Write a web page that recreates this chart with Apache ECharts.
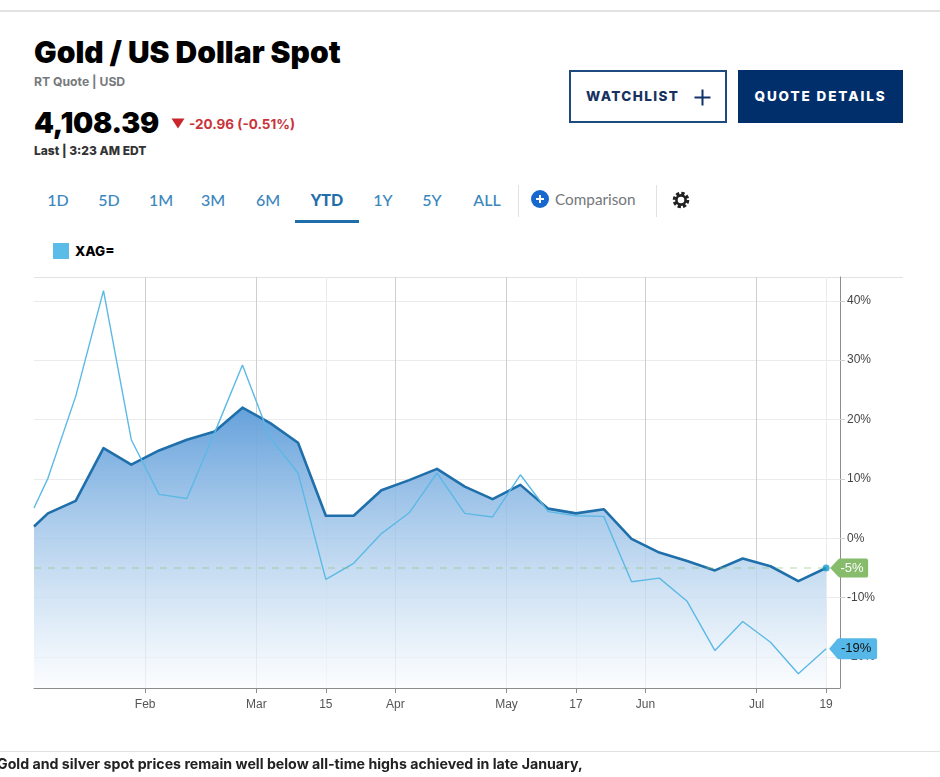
<!DOCTYPE html>
<html>
<head>
<meta charset="utf-8">
<title>Gold / US Dollar Spot</title>
<script src="https://cdn.jsdelivr.net/npm/echarts@6/dist/echarts.min.js"></script>
<style>
  html, body { margin: 0; padding: 0; background: #fff; overflow: hidden; }
  #page { position: relative; width: 940px; height: 777px; overflow: hidden; font-family: Lato, "Noto Sans", sans-serif; }
  #page > * { position: absolute; white-space: nowrap; }
  #chart { left: 0; top: 0; width: 940px; height: 777px; }
  .rule { background: #e2e2e2; }
  .heavy { font-family: Inter, Lato, sans-serif; }
  .range { top: 190px; font-size: 16px; line-height: 20px; color: #3b86bd; transform: translateX(-50%); font-weight: 500; }
  .range.active { color: #1f6ea9; font-weight: 900; }
  .btn { top: 70px; height: 53px; box-sizing: border-box; line-height: 52px; font-size: 13.5px; font-weight: 800; letter-spacing: 1.4px; }
</style>
</head>
<body>
<div id="page">
  <div class="rule" style="left:0;top:10px;width:940px;height:2px"></div>
  <div class="heavy" style="left:34px;top:34px;font-size:30px;line-height:36px;font-weight:900;color:#000">Gold / US Dollar Spot</div>
  <div class="heavy" style="left:34px;top:74px;font-size:12.2px;line-height:16px;font-weight:700;color:#77797c">RT Quote | USD</div>
  <div class="heavy" style="left:34px;top:104px;font-size:28.5px;line-height:38px;font-weight:900;color:#000;letter-spacing:-.3px">4,108.39</div>
  <svg style="left:171px;top:118px" width="14" height="11"><path d="M0.5 0.5H13.5L7 10.5Z" fill="#c8252d"/></svg>
  <div class="heavy" style="left:189px;top:115px;font-size:13.5px;line-height:18px;font-weight:700;color:#c9343a">-20.96 (-0.51%)</div>
  <div class="heavy" style="left:34px;top:143px;font-size:12px;line-height:16px;font-weight:800;color:#333">Last | 3:23 AM EDT</div>

  <div class="btn heavy" style="left:569px;width:158px;border:2px solid #1f4a80;background:#fff;color:#17325f;padding-left:15px;line-height:49px">WATCHLIST</div>
  <svg style="left:694px;top:89px" width="17" height="17"><path d="M8.5 0.5V16.5M0.5 8.5H16.5" stroke="#0f3368" stroke-width="2"/></svg>
  <div class="btn heavy" style="left:738px;width:165px;background:#002f6c;color:#fff;text-align:center;letter-spacing:1.9px">QUOTE DETAILS</div>

  <div class="range" style="left:58px">1D</div>
  <div class="range" style="left:109px">5D</div>
  <div class="range" style="left:161px">1M</div>
  <div class="range" style="left:213px">3M</div>
  <div class="range" style="left:268px">6M</div>
  <div class="range active" style="left:327px">YTD</div>
  <div class="range" style="left:383px">1Y</div>
  <div class="range" style="left:432px">5Y</div>
  <div class="range" style="left:487px">ALL</div>
  <div style="left:295px;top:220px;width:64px;height:3px;background:#1f6ea9"></div>
  <div class="rule" style="left:518px;top:185px;width:1px;height:32px"></div>
  <div class="rule" style="left:656px;top:185px;width:1px;height:32px"></div>
  <svg style="left:531px;top:190px" width="18" height="18"><circle cx="9" cy="9" r="9" fill="#1668cf"/><path d="M9 5V13M5 9H13" stroke="#fff" stroke-width="2"/></svg>
  <div style="left:555px;top:190px;font-size:15.3px;line-height:19px;color:#75777a">Comparison</div>
  <svg style="left:672px;top:191px" width="18" height="18" viewBox="0 0 18 18">
    <circle cx="9" cy="9" r="6.6" fill="none" stroke="#222" stroke-width="3.4" stroke-dasharray="3.2 2"/>
    <circle cx="9" cy="9" r="4.6" fill="none" stroke="#222" stroke-width="2.6"/>
  </svg>

  <div style="left:53px;top:243px;width:16px;height:16px;background:#5bbce8"></div>
  <div class="heavy" style="left:75px;top:243px;font-size:13.5px;line-height:17px;font-weight:800;color:#000">XAG=</div>

  <div class="rule" style="left:34px;top:277px;width:869px;height:1px"></div>
  <div id="chart"></div>

  <div class="rule" style="left:0;top:751px;width:940px;height:1px"></div>
  <div class="heavy" style="left:-3px;top:755px;font-size:14.2px;line-height:18px;font-weight:700;color:#222">Gold and silver spot prices remain well below all-time highs achieved in late January,</div>
</div>
<script>
// Sample slots along the year (one slot is half a week)
const sampleSlots = [0, 1, 3, 5, 7, 9, 11, 13, 15, 17, 19, 21, 23, 25, 27, 29, 31, 33, 35, 37, 39, 41, 43, 45, 47, 49, 51, 53, 55, 57];

// Year-to-date change in percent
const goldChange = [2.0, 4.2, 6.3, 15.2, 12.4, 14.8, 16.6, 18.0, 22.0, 19.4, 16.1, 3.8, 3.8, 8.1, 9.8, 11.7, 8.7, 6.6, 9.0, 5.0, 4.2, 4.9, -0.1, -2.4, -3.8, -5.4, -3.4, -4.7, -7.2, -5.0];
const silverChange = [5.1, 10.1, 23.9, 41.7, 16.6, 7.4, 6.7, 17.8, 29.2, 16.9, 11.0, -6.9, -4.2, 0.8, 4.3, 11.0, 4.2, 3.6, 10.7, 4.5, 3.8, 3.7, -7.3, -6.7, -10.6, -18.9, -14.0, -17.5, -22.8, -18.6];

// Axis ticks
const monthSlots = [8, 16, 26, 34, 44, 52];
const xTickSlots = [8, 16, 21, 26, 34, 39, 44, 52, 57];
const xTickLabels = ['Feb', 'Mar', '15', 'Apr', 'May', '17', 'Jun', 'Jul', '19'];
const yTicks = [-20, -10, 0, 10, 20, 30, 40];

const pairs = (values) => sampleSlots.map((slot, i) => [slot, values[i]]);
const lastSlot = sampleSlots[sampleSlots.length - 1];
const lastGold = goldChange[goldChange.length - 1];
const lastSilver = silverChange[silverChange.length - 1];

const tagPath = (w) => `path://M0 10L8 1Q9 0 10 0L${w - 2} 0Q${w} 0 ${w} 2L${w} 18Q${w} 20 ${w - 2} 20L10 20Q9 20 8 19Z`;
const tagLabel = (color) => ({
  show: true,
  position: 'inside',
  color,
  fontSize: 13,
  fontFamily: '"Liberation Sans", Arial, sans-serif',
  padding: [0, 0, 0, 6],
  formatter: (p) => Math.round(p.value[1]) + '%'
});

const chart = echarts.init(document.getElementById('chart'), null, { renderer: 'canvas' });
chart.setOption({
  animation: false,
  backgroundColor: 'transparent',
  grid: { left: 34, right: 100, top: 277, bottom: 89 },
  xAxis: [
    {
      type: 'value', min: 0, max: 58, position: 'bottom',
      axisLine: { onZero: false, lineStyle: { color: '#8c8c8c', width: 1 } },
      axisTick: { customValues: xTickSlots, length: 5, lineStyle: { color: '#8c8c8c' } },
      axisLabel: {
        customValues: xTickSlots,
        color: '#555', fontSize: 12, margin: 11,
        fontFamily: '"Liberation Sans", Arial, sans-serif',
        formatter: (v) => xTickLabels[xTickSlots.indexOf(v)]
      },
      splitLine: { show: true, lineStyle: { color: '#ebebeb', width: 1 } }
    },
    {
      type: 'value', min: 0, max: 58, position: 'bottom',
      axisLine: { show: false },
      axisTick: { show: false, customValues: monthSlots },
      axisLabel: { show: false, customValues: monthSlots },
      splitLine: { show: true, lineStyle: { color: '#cfcfcf', width: 1 } }
    }
  ],
  yAxis: {
    type: 'value', position: 'right', min: -25.2, max: 44,
    axisLine: { show: true, onZero: false, lineStyle: { color: '#8c8c8c', width: 1 } },
    axisTick: { show: true, customValues: yTicks, length: 5, lineStyle: { color: '#cfcfcf' } },
    axisLabel: {
      customValues: yTicks,
      color: '#444', fontSize: 12, margin: 7,
      fontFamily: '"Liberation Sans", Arial, sans-serif',
      formatter: (v) => v + '%'
    },
    splitLine: { show: true, lineStyle: { color: '#ebebeb', width: 1 } }
  },
  series: [
    {
      name: 'Gold',
      type: 'line',
      z: 3,
      data: pairs(goldChange),
      symbol: 'none',
      lineStyle: { color: '#1f6fab', width: 2.6, join: 'round' },
      areaStyle: {
        origin: 'start',
        opacity: 1,
        color: new echarts.graphic.LinearGradient(0, 0, 0, 1, [
          { offset: 0, color: 'rgba(96,158,218,0.97)' },
          { offset: 1, color: 'rgba(250,252,254,0.7)' }
        ])
      },
      markLine: {
        silent: true, symbol: 'none', label: { show: false },
        lineStyle: { color: 'rgba(135,190,110,0.4)', type: [7, 7], width: 1.5 },
        data: [[{ coord: [0, lastGold] }, { coord: [lastSlot, lastGold] }]]
      }
    },
    {
      name: 'XAG=',
      type: 'line',
      z: 4,
      data: pairs(silverChange),
      symbol: 'none',
      lineStyle: { color: '#5cb9e6', width: 1.4 }
    },
    {
      name: 'Gold last',
      type: 'scatter',
      z: 6,
      clip: false,
      data: [[lastSlot, lastGold]],
      symbolSize: 7,
      itemStyle: { color: '#169ac9' }
    },
    {
      name: 'Gold tag',
      type: 'scatter',
      z: 7,
      clip: false,
      data: [[lastSlot, lastGold]],
      symbol: tagPath(38),
      symbolSize: [38, 19],
      symbolOffset: [23, 0],
      itemStyle: { color: '#86bc6c', opacity: 1 },
      label: tagLabel('#fff')
    },
    {
      name: 'Silver tag',
      type: 'scatter',
      z: 7,
      clip: false,
      data: [[lastSlot, lastSilver]],
      symbol: tagPath(48),
      symbolSize: [48, 21],
      symbolOffset: [27, 0],
      itemStyle: { color: '#56b8e8', opacity: 1 },
      label: tagLabel('#111')
    }
  ]
});
</script>
</body>
</html>
